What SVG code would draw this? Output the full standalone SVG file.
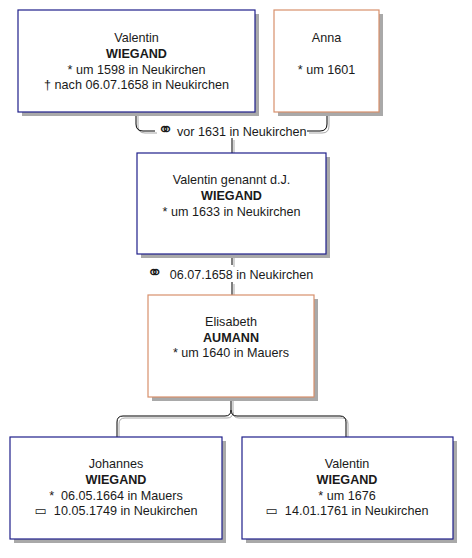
<svg xmlns="http://www.w3.org/2000/svg" width="472" height="558" viewBox="0 0 472 558">
<style>
.bg{fill:#ffffff}
.shadow{fill:#a9a9a9}
.m{fill:#ffffff;stroke:#1f1f8a;stroke-width:1.2}
.f{fill:#ffffff;stroke:#d8906c;stroke-width:1.2}
text{font-family:"Liberation Sans",Arial,sans-serif;font-size:12.6px;fill:#1a1a1a;text-anchor:middle}
.b{font-weight:bold}
.sym{font-family:"DejaVu Sans",sans-serif;font-size:19px}
.rs{font-family:"DejaVu Sans",sans-serif;font-size:13px}
.ln{fill:none;stroke:#000000;stroke-width:1}
.lg{fill:none;stroke:#a8a8a8;stroke-width:1}
</style>
<rect class="bg" x="0" y="0" width="472" height="558"/>
<g id="connectors">
  <g transform="translate(2,2)">
    <path class="lg" d="M136,112 V124 Q136,131 143,131 H155"/>
    <path class="lg" d="M307,131 H320 Q327,131 327,124 V112"/>
    <path class="lg" d="M232,138 V153"/>
    <path class="lg" d="M232,254 V265 M232,282 V295"/>
    <path class="lg" d="M231,397 V410 Q231,416 225,416 H123 Q117,416 117,422 V437"/>
    <path class="lg" d="M231,410 Q231,416 237,416 H340 Q346,416 346,422 V437"/>
  </g>
  <path class="ln" d="M136,112 V124 Q136,131 143,131 H155"/>
  <path class="ln" d="M307,131 H320 Q327,131 327,124 V112"/>
  <path class="ln" d="M232,138 V153"/>
  <path class="ln" d="M232,254 V265 M232,282 V295"/>
  <path class="ln" d="M231,397 V410 Q231,416 225,416 H123 Q117,416 117,422 V437"/>
  <path class="ln" d="M231,410 Q231,416 237,416 H340 Q346,416 346,422 V437"/>
  <text x="232" y="135.5"><tspan class="sym">⚭</tspan> vor 1631 in Neukirchen</text>
  <text x="230" y="279" xml:space="preserve"><tspan class="sym">⚭</tspan>  06.07.1658 in Neukirchen</text>
</g>
<g id="n1">
  <rect class="shadow" x="22" y="14" width="237" height="102"/>
  <rect class="m" x="18" y="10" width="237" height="102"/>
  <text x="136.5" y="42">Valentin</text>
  <text class="b" x="136.5" y="58">WIEGAND</text>
  <text x="136.5" y="73.5">* um 1598 in Neukirchen</text>
  <text x="136.5" y="89">† nach 06.07.1658 in Neukirchen</text>
</g>
<g id="n2">
  <rect class="shadow" x="278" y="14" width="105" height="102"/>
  <rect class="f" x="274" y="10" width="105" height="102"/>
  <text x="326.5" y="42">Anna</text>
  <text x="326.5" y="74">* um 1601</text>
</g>
<g id="n3">
  <rect class="shadow" x="141" y="157" width="189" height="101"/>
  <rect class="m" x="137" y="153" width="189" height="101"/>
  <text x="231.5" y="184">Valentin genannt d.J.</text>
  <text class="b" x="231.5" y="200">WIEGAND</text>
  <text x="231.5" y="215.5">* um 1633 in Neukirchen</text>
</g>
<g id="n4">
  <rect class="shadow" x="152" y="299" width="166" height="102"/>
  <rect class="f" x="148" y="295" width="166" height="102"/>
  <text x="231" y="326">Elisabeth</text>
  <text class="b" x="231" y="341.5">AUMANN</text>
  <text x="231" y="357">* um 1640 in Mauers</text>
</g>
<g id="n5">
  <rect class="shadow" x="14" y="441" width="212" height="102"/>
  <rect class="m" x="10" y="437" width="212" height="102"/>
  <text x="116" y="468">Johannes</text>
  <text class="b" x="116" y="484">WIEGAND</text>
  <text x="116" y="499.5" xml:space="preserve">*  06.05.1664 in Mauers</text>
  <text x="116" y="515" xml:space="preserve"><tspan class="rs">▭</tspan>  10.05.1749 in Neukirchen</text>
</g>
<g id="n6">
  <rect class="shadow" x="246" y="441" width="211" height="102"/>
  <rect class="m" x="242" y="437" width="211" height="102"/>
  <text x="347" y="468">Valentin</text>
  <text class="b" x="347" y="484">WIEGAND</text>
  <text x="347" y="499.5">* um 1676</text>
  <text x="347" y="515" xml:space="preserve"><tspan class="rs">▭</tspan>  14.01.1761 in Neukirchen</text>
</g>
</svg>
